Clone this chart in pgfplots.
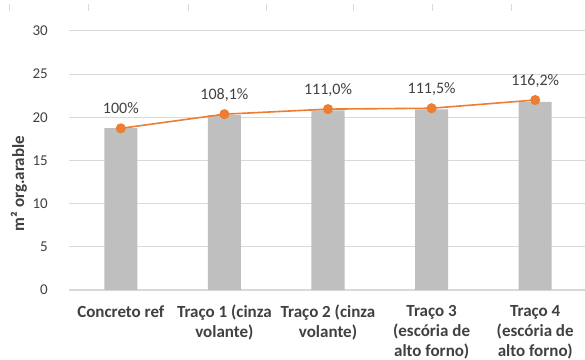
\documentclass[border=0pt]{standalone}
\usepackage{fontspec}
\setmainfont{Carlito}
\usepackage{pgfplots}
\pgfplotsset{compat=1.18}

\definecolor{barfill}{HTML}{BFBFBF}
\definecolor{lineorange}{HTML}{ED7D31}
\definecolor{gridgray}{HTML}{D9D9D9}
\definecolor{txt}{HTML}{404040}

\newcommand{\chartfont}{\fontsize{15bp}{20bp}\selectfont}
\newcommand{\valuefont}{\fontsize{16bp}{20bp}\selectfont}
\newcommand{\labelfont}{\fontsize{17bp}{20bp}\selectfont\bfseries}

\begin{document}
\begin{tikzpicture}
\useasboundingbox (0,0) rectangle (585bp,360bp);

% ticks of the category axis belonging to the panel above
\foreach \xx in {9,88,188,266,353,432,511}
  \draw[gridgray, line width=1bp] (\xx bp,349bp) -- (\xx bp,356bp);

% bars: area per trace
\begin{axis}[
  at={(69bp,70bp)}, anchor=south west,
  scale only axis, width=518bp, height=259bp,
  xmin=-0.5, xmax=4.5, ymin=0, ymax=30,
  ytick={0,5,...,30},
  xtick={0,1,2,3,4},
  xticklabels={
    {Concreto ref},
    {Traço 1 (cinza\\volante)},
    {Traço 2 (cinza\\volante)},
    {Traço 3\\(escória de\\alto forno)},
    {Traço 4\\(escória de\\alto forno)}},
  xticklabel style={font=\labelfont, text=txt, align=center,
    anchor=north, inner sep=0pt, yshift=-15bp},
  yticklabel style={font=\chartfont, text=txt, anchor=east,
    inner sep=0pt, xshift=-21bp},
  /pgf/number format/assume math mode=true,
  major tick length=0pt,
  axis line style={draw=none},
  ymajorgrids, grid style={gridgray, line width=1bp},
  extra y ticks={0}, extra y tick labels={},
  extra y tick style={grid style={gridgray, line width=1.2bp}},
  ylabel={m² org.arable},
  ylabel style={font=\labelfont, text=txt,
    at={(axis description cs:-0.0965,0.411)}, anchor=center},
  clip=false,
]
\addplot[ybar, bar width=33bp, fill=barfill, draw=none]
  coordinates {(0,18.75) (1,20.27) (2,20.81) (3,20.91) (4,21.79)};
\end{axis}

% relative performance line on a hidden secondary scale
\begin{axis}[
  at={(69bp,70bp)}, anchor=south west,
  scale only axis, width=518bp, height=259bp,
  xmin=-0.5, xmax=4.5, ymin=7.5, ymax=155.7,
  hide axis, clip=false,
]
\addplot[lineorange, line width=1.6bp, mark=*, mark size=4.2bp,
  mark options={fill=lineorange, draw=lineorange},
  point meta=explicit symbolic,
  nodes near coords,
  nodes near coords style={font=\valuefont, text=txt, anchor=base,
    inner sep=0pt, yshift=14.5bp}]
  coordinates {
    (0,100)   [100\%]
    (1,108.1) [108,1\%]
    (2,111.0) [111,0\%]
    (3,111.5) [111,5\%]
    (4,116.2) [116,2\%]
  };
\end{axis}
\end{tikzpicture}
\end{document}
